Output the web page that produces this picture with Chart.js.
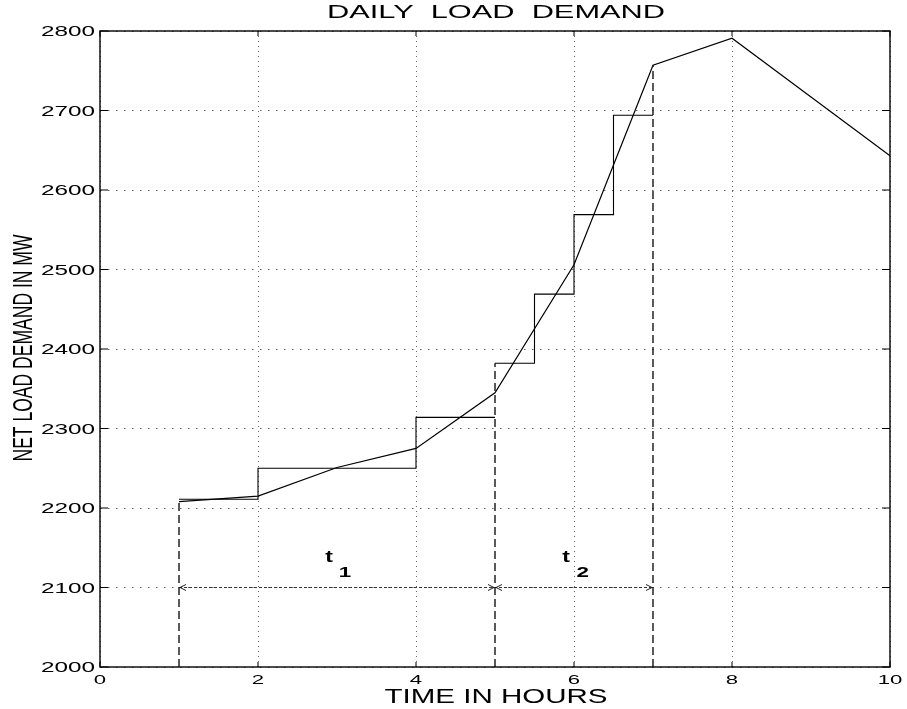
<!DOCTYPE html>
<html>
<head>
<meta charset="utf-8">
<script src="https://cdn.jsdelivr.net/npm/chart.js@4"></script>
<style>
  html, body { margin: 0; padding: 0; background: #fff; }
  canvas { display: block; }
</style>
</head>
<body>
<canvas id="myChart" width="907" height="709"></canvas>
<script>
// load curve (hourly)
const hours = [1, 2, 3, 4, 5, 6, 7, 8, 9, 10];
const demand = [2208, 2215, 2251, 2275, 2345, 2506, 2757, 2791, 2717, 2643];

// stepped approximation
const stepEdges = [1, 2, 4, 5, 5.5, 6, 6.5, 7];
const stepLevels = [2211, 2250, 2314, 2382, 2469, 2569, 2694];

// period boundaries t1 / t2
const periodBounds = [1, 5, 7];
const boundTops = [2211, 2382, 2757];
const arrowLevel = 2100;

// period labels
const periodNames = ["1", "2"];
const tLabelX = [2.9, 5.9];
const subLabelX = [3.1, 6.11];
const tLabelY = 2132;
const subLabelY = 2113;

const xTickLabels = ["0", "2", "4", "6", "8", "10"];
const yTickLabels = ["2000", "2100", "2200", "2300", "2400", "2500", "2600", "2700", "2800"];

const titleText = "DAILY  LOAD  DEMAND";
const xTitle = "TIME IN HOURS";
const yTitle = "NET LOAD DEMAND IN MW";

const FONT = "'Liberation Sans', Arial, Helvetica, sans-serif";
const yMin = Number(yTickLabels[0]);

// build the stair line, broken where a period boundary is
const stairPts = [];
for (let i = 0; i < stepLevels.length; i++) {
  if (i > 0 && periodBounds.includes(stepEdges[i])) {
    stairPts.push({ x: stepEdges[i], y: null });
  }
  stairPts.push({ x: stepEdges[i], y: stepLevels[i] });
  stairPts.push({ x: stepEdges[i + 1], y: stepLevels[i] });
}

const boundPts = [];
periodBounds.forEach((b, i) => {
  boundPts.push({ x: b, y: yMin });
  boundPts.push({ x: b, y: boundTops[i] });
  boundPts.push({ x: b, y: null });
});

const arrowPts = [
  { x: periodBounds[0], y: arrowLevel },
  { x: periodBounds[periodBounds.length - 1], y: arrowLevel },
];

// draw text squeezed/stretched horizontally like the original print
function stretchText(ctx, text, x, y, size, sx, align, weight) {
  ctx.save();
  ctx.font = (weight || "normal") + " " + size + "px " + FONT;
  ctx.translate(x, y);
  ctx.scale(sx, 1);
  ctx.textAlign = align;
  ctx.textBaseline = "alphabetic";
  ctx.fillStyle = "#000";
  ctx.fillText(text, 0, 0);
  ctx.restore();
}

function fitText(ctx, text, cx, baseline, size, width) {
  ctx.save();
  ctx.font = size + "px " + FONT;
  const w = ctx.measureText(text).width;
  ctx.restore();
  stretchText(ctx, text, cx, baseline, size, width / w, "center");
}

const decorPlugin = {
  id: "decor",
  afterDatasetsDraw(chart) {
    const ctx = chart.ctx;
    const xs = chart.scales.x;
    const ys = chart.scales.y;
    const a = chart.chartArea;

    // arrowheads
    ctx.save();
    ctx.strokeStyle = "#222";
    ctx.lineWidth = 1;
    const ay = ys.getPixelForValue(arrowLevel);
    for (let i = 0; i < periodBounds.length - 1; i++) {
      const p0 = xs.getPixelForValue(periodBounds[i]);
      const p1 = xs.getPixelForValue(periodBounds[i + 1]);
      ctx.beginPath();
      ctx.moveTo(p0 + 7, ay - 3);
      ctx.lineTo(p0 + 1, ay);
      ctx.lineTo(p0 + 7, ay + 3);
      ctx.moveTo(p1 - 7, ay - 3);
      ctx.lineTo(p1 - 1, ay);
      ctx.lineTo(p1 - 7, ay + 3);
      ctx.stroke();
    }
    ctx.restore();

    // box
    ctx.save();
    ctx.strokeStyle = "#000";
    ctx.lineWidth = 1.4;
    ctx.strokeRect(a.left, a.top, a.right - a.left, a.bottom - a.top);

    // inward ticks
    ctx.lineWidth = 1;
    ctx.beginPath();
    xTickLabels.forEach((t) => {
      const px = xs.getPixelForValue(Number(t));
      ctx.moveTo(px, a.bottom);
      ctx.lineTo(px, a.bottom - 5);
      ctx.moveTo(px, a.top);
      ctx.lineTo(px, a.top + 5);
    });
    yTickLabels.forEach((t) => {
      const py = ys.getPixelForValue(Number(t));
      ctx.moveTo(a.left, py);
      ctx.lineTo(a.left + 8, py);
      ctx.moveTo(a.right, py);
      ctx.lineTo(a.right - 8, py);
    });
    ctx.stroke();
    ctx.restore();

    // tick labels
    xTickLabels.forEach((t) => {
      const px = xs.getPixelForValue(Number(t));
      stretchText(ctx, t, px, a.bottom + 17, 13.5, 1.64, "center");
    });
    yTickLabels.forEach((t) => {
      const py = ys.getPixelForValue(Number(t));
      stretchText(ctx, t, a.left - 5, py + 5, 14.3, 1.7, "right");
    });

    // titles
    fitText(ctx, titleText, (a.left + a.right) / 2 + 1, 18, 18, 338);
    fitText(ctx, xTitle, (a.left + a.right) / 2 + 1, 703, 19.5, 223);

    // y title, rotated
    ctx.save();
    ctx.font = "17px " + FONT;
    const yw = ctx.measureText(yTitle).width;
    ctx.translate(31.5, 348);
    ctx.rotate(-Math.PI / 2);
    ctx.scale(227 / yw, 1.64);
    ctx.textAlign = "center";
    ctx.textBaseline = "alphabetic";
    ctx.fillStyle = "#000";
    ctx.fillText(yTitle, 0, 0);
    ctx.restore();

    // t1, t2 labels
    periodNames.forEach((n, i) => {
      stretchText(ctx, "t", xs.getPixelForValue(tLabelX[i]), ys.getPixelForValue(tLabelY), 17, 1.35, "center", "bold");
      stretchText(ctx, n, xs.getPixelForValue(subLabelX[i]), ys.getPixelForValue(subLabelY), 14, 1.6, "center", "bold");
    });
  },
};

const ctx = document.getElementById("myChart");

new Chart(ctx, {
  type: "line",
  data: {
    datasets: [
      {
        label: "load",
        data: hours.map((h, i) => ({ x: h, y: demand[i] })),
        borderColor: "#000",
        borderWidth: 1.2,
        pointRadius: 0,
        tension: 0,
      },
      {
        label: "steps",
        data: stairPts,
        borderColor: "#000",
        borderWidth: 1.1,
        pointRadius: 0,
        tension: 0,
        spanGaps: false,
      },
      {
        label: "bounds",
        data: boundPts,
        borderColor: "#000",
        borderWidth: 1.3,
        borderDash: [8, 4],
        pointRadius: 0,
        tension: 0,
        spanGaps: false,
      },
      {
        label: "periods",
        data: arrowPts,
        borderColor: "#333",
        borderWidth: 1,
        borderDash: [3, 2],
        pointRadius: 0,
        tension: 0,
      },
    ],
  },
  options: {
    responsive: false,
    animation: false,
    layout: { padding: { left: 100, right: 17, top: 31, bottom: 42 } },
    plugins: {
      legend: { display: false },
      tooltip: { enabled: false },
      title: { display: false },
    },
    scales: {
      x: {
        type: "linear",
        min: 0,
        max: 10,
        ticks: { display: false, stepSize: 2 },
        grid: { color: "rgba(0,0,0,0.6)", lineWidth: 1, drawTicks: false },
        border: { display: false, dash: [1, 4] },
      },
      y: {
        type: "linear",
        min: 2000,
        max: 2800,
        ticks: { display: false, stepSize: 100 },
        grid: { color: "rgba(0,0,0,0.6)", lineWidth: 1, drawTicks: false },
        border: { display: false, dash: [1.5, 6.5] },
      },
    },
  },
  plugins: [decorPlugin],
});
</script>
</body>
</html>
